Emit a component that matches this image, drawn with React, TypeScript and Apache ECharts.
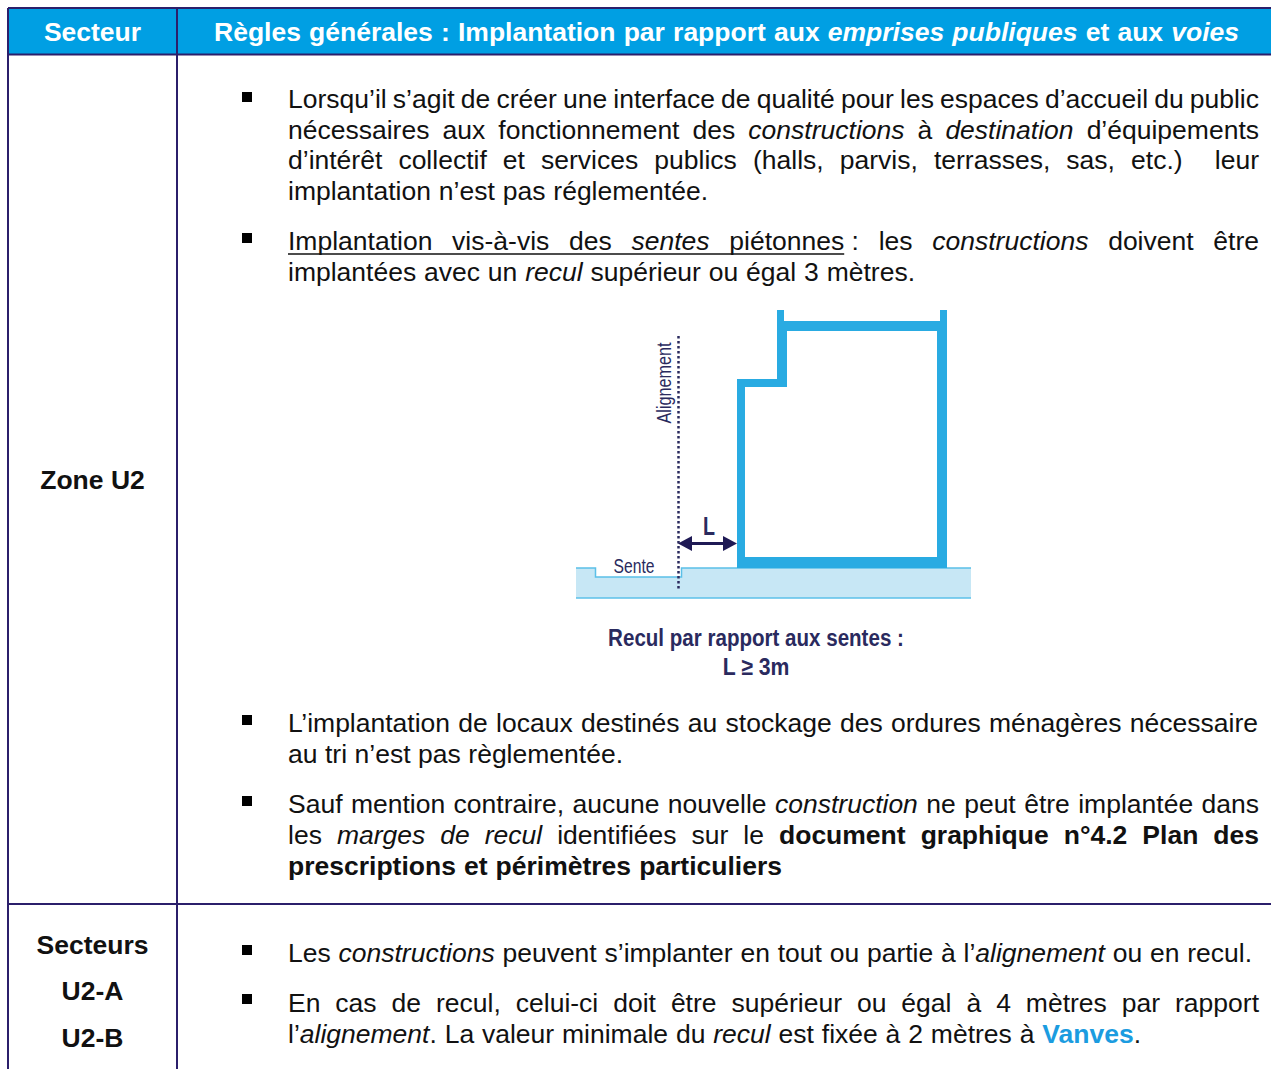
import React, { useEffect, useRef } from "react";
import * as echarts from "echarts";

type Run = [string, string];
const FONT = "'Liberation Sans', Arial, sans-serif";
const NAVY = "#2B1F6B";
const HEAD = "#009FE3";
const INK = "#111111";
const BLUE = "#29ABE2";
const DIAGRAM_INK = "#2A2A5E";
const HEADLINK = "#1B9CE0";
const BODY_SIZE = 26.5;

const headerSector = "Secteur";
const headerRule: Run[] = [
  ["b", "Règles générales : Implantation par rapport aux "],
  ["bi", "emprises publiques"],
  ["b", " et aux "],
  ["bi", "voies"],
];
const sectorLabels = ["Zone U2", "Secteurs", "U2-A", "U2-B"];
const sectorY = [480, 945, 991, 1038];

const bodyLines: Run[][] = [
  [["n", "Lorsqu’il s’agit de créer une interface de qualité pour les espaces d’accueil du public"]],
  [["n", "nécessaires aux fonctionnement des "], ["i", "constructions"], ["n", " à "], ["i", "destination"], ["n", " d’équipements"]],
  [["n", "d’intérêt collectif et services publics (halls, parvis, terrasses, sas, etc.)  leur"]],
  [["n", "implantation n’est pas réglementée."]],
  [["u", "Implantation vis-à-vis des "], ["ui", "sentes"], ["u", " piétonnes"], ["n", "\u00A0: les "], ["i", "constructions"], ["n", " doivent être"]],
  [["n", "implantées avec un "], ["i", "recul"], ["n", " supérieur ou égal 3 mètres."]],
  [["n", "L’implantation de locaux destinés au stockage des ordures ménagères nécessaire"]],
  [["n", "au tri n’est pas règlementée."]],
  [["n", "Sauf mention contraire, aucune nouvelle "], ["i", "construction"], ["n", " ne peut être implantée dans"]],
  [["n", "les "], ["i", "marges de recul"], ["n", " identifiées sur le "], ["b", "document graphique n°4.2 Plan des"]],
  [["b", "prescriptions et périmètres particuliers"]],
  [["n", "Les "], ["i", "constructions"], ["n", " peuvent s’implanter en tout ou partie à l’"], ["i", "alignement"], ["n", " ou en recul."]],
  [["n", "En cas de recul, celui-ci doit être supérieur ou égal à 4 mètres par rapport"]],
  [["n", "l’"], ["i", "alignement"], ["n", ". La valeur minimale du "], ["i", "recul"], ["n", " est fixée à 2 mètres à "], ["v", "Vanves"], ["n", "."]],
];
const lineY = [99, 130, 160, 191, 241, 272, 723, 754, 804, 835, 866, 953, 1003, 1034];
const lineEnd = [1259, 1259, 1259, 708, 1259, 915, 1258, 623, 1259, 1259, 782, 1252, 1259, 1141];
const bulletY = [97, 238, 720, 801, 950, 999];

const caption = ["Recul par rapport aux sentes :", "L ≥ 3m"];

const ctx = document.createElement("canvas").getContext("2d")!;
function styleOf(s: string, size: number) {
  const bold = s.includes("b") || s === "v";
  const italic = s.includes("i");
  return {
    fontFamily: FONT,
    fontSize: size,
    fontWeight: bold ? "bold" : "normal",
    fontStyle: italic ? "italic" : "normal",
  };
}
function measure(t: string, s: string, size: number) {
  const st = styleOf(s, size);
  ctx.font = `${st.fontStyle} ${st.fontWeight} ${size}px ${FONT}`;
  return ctx.measureText(t).width;
}

function layoutLine(runs: Run[], xStart: number, xEnd: number, y: number, size: number, fill: string) {
  type Frag = { t: string; s: string; w: number };
  const words: Frag[][] = [[]];
  runs.forEach(([s, text]) => {
    text.split(" ").forEach((part, i) => {
      if (i > 0) words.push([]);
      if (part) words[words.length - 1].push({ t: part, s, w: measure(part, s, size) });
    });
  });
  const total = words.reduce((a, w) => a + w.reduce((b, f) => b + f.w, 0), 0);
  const gap = words.length > 1 ? (xEnd - xStart - total) / (words.length - 1) : 0;
  const out: any[] = [];
  let x = xStart;
  let uStart = -1;
  let uEnd = -1;
  words.forEach((w) => {
    w.forEach((f) => {
      if (f.s.includes("u")) {
        if (uStart < 0) uStart = x;
        uEnd = x + f.w;
      }
      out.push({
        type: "text",
        x,
        y,
        silent: true,
        style: {
          ...styleOf(f.s, size),
          text: f.t,
          fill: f.s === "v" ? HEADLINK : fill,
          align: "left",
          verticalAlign: "middle",
        },
      });
      x += f.w;
    });
    x += gap;
  });
  if (uStart >= 0) {
    out.push({
      type: "line",
      silent: true,
      shape: { x1: uStart, y1: y + 13, x2: uEnd, y2: y + 13 },
      style: { stroke: INK, lineWidth: 1.5 },
    });
  }
  return out;
}

function fitted(text: string, cx: number, cy: number, width: number, size: number, weight: string, rotation = 0) {
  ctx.font = `${weight} ${size}px ${FONT}`;
  const w = ctx.measureText(text).width;
  return {
    type: "text",
    x: cx,
    y: cy,
    rotation,
    scaleX: width / w,
    silent: true,
    style: {
      text,
      fontFamily: FONT,
      fontSize: size,
      fontWeight: weight,
      fill: DIAGRAM_INK,
      align: "center",
      verticalAlign: "middle",
    },
  };
}

function buildElements() {
  const els: any[] = [];
  els.push({ type: "rect", silent: true, shape: { x: 8, y: 8, width: 1263, height: 46 }, style: { fill: HEAD } });
  const line = (x1: number, y1: number, x2: number, y2: number) => ({
    type: "line",
    silent: true,
    shape: { x1, y1, x2, y2 },
    style: { stroke: NAVY, lineWidth: 2 },
  });
  els.push(line(8, 8, 1271, 8), line(8, 54.5, 1271, 54.5), line(8, 904, 1271, 904));
  els.push(line(8, 8, 8, 1069), line(177, 8, 177, 1069));

  els.push({
    type: "text",
    x: 92.5,
    y: 32,
    silent: true,
    style: { text: headerSector, fontFamily: FONT, fontSize: BODY_SIZE, fontWeight: "bold", fill: "#FFFFFF", align: "center", verticalAlign: "middle" },
  });
  els.push(...layoutLine(headerRule, 214, 1239, 32, BODY_SIZE, "#FFFFFF"));

  sectorLabels.forEach((t, i) =>
    els.push({
      type: "text",
      x: 92.5,
      y: sectorY[i],
      silent: true,
      style: { text: t, fontFamily: FONT, fontSize: BODY_SIZE, fontWeight: "bold", fill: INK, align: "center", verticalAlign: "middle" },
    })
  );

  bulletY.forEach((y) =>
    els.push({ type: "rect", silent: true, shape: { x: 242, y: y - 5, width: 10, height: 10 }, style: { fill: "#000000" } })
  );

  bodyLines.forEach((runs, i) => els.push(...layoutLine(runs, 288, lineEnd[i], lineY[i], BODY_SIZE, INK)));

  els.push({ type: "rect", silent: true, shape: { x: 576, y: 568, width: 395, height: 30 }, style: { fill: "#C7E7F5" } });
  els.push({ type: "rect", silent: true, shape: { x: 595, y: 566, width: 86, height: 11 }, style: { fill: "#FFFFFF" } });
  els.push({
    type: "polyline",
    silent: true,
    shape: { points: [[576, 568], [595.5, 568], [595.5, 577], [681.5, 577], [681.5, 568], [971, 568]] },
    style: { stroke: "#5BC0E8", lineWidth: 1.5, fill: "none" },
  });
  els.push({
    type: "line",
    silent: true,
    shape: { x1: 576, y1: 598, x2: 971, y2: 598 },
    style: { stroke: "#5BC0E8", lineWidth: 1.5 },
  });
  els.push({
    type: "polygon",
    silent: true,
    shape: { points: [[737, 568], [737, 379], [777, 379], [777, 310], [784, 310], [784, 321], [940, 321], [940, 310], [947, 310], [947, 568]] },
    style: { fill: BLUE },
  });
  els.push({
    type: "polygon",
    silent: true,
    shape: { points: [[745, 557], [745, 387], [787, 387], [787, 331], [937, 331], [937, 557]] },
    style: { fill: "#FFFFFF" },
  });
  els.push({
    type: "line",
    silent: true,
    shape: { x1: 678.5, y1: 336, x2: 678.5, y2: 590 },
    style: { stroke: DIAGRAM_INK, lineWidth: 2.5, lineDash: [2.5, 2.5] },
  });
  els.push({
    type: "line",
    silent: true,
    shape: { x1: 686, y1: 543.5, x2: 730, y2: 543.5 },
    style: { stroke: "#1F1A55", lineWidth: 3 },
  });
  els.push({ type: "polygon", silent: true, shape: { points: [[678, 543.5], [692, 536], [692, 551]] }, style: { fill: "#1F1A55" } });
  els.push({ type: "polygon", silent: true, shape: { points: [[737, 543.5], [723, 536], [723, 551]] }, style: { fill: "#1F1A55" } });

  els.push(fitted("Alignement", 664, 383, 81, 20, "normal", Math.PI / 2));
  els.push(fitted("Sente", 634, 566, 41, 20, "normal"));
  els.push(fitted("L", 709, 527, 12, 25, "bold"));
  els.push(fitted(caption[0], 756, 638, 296, 24, "bold"));
  els.push(fitted(caption[1], 756, 667, 67, 24, "bold"));
  return els;
}

export default function App() {
  const ref = useRef<HTMLDivElement>(null);
  useEffect(() => {
    document.body.style.margin = "0";
    const chart = echarts.init(ref.current!, undefined, { renderer: "svg" });
    chart.setOption({
      animation: false,
      backgroundColor: "#FFFFFF",
      graphic: { elements: buildElements() },
    });
    return () => chart.dispose();
  }, []);
  return <div ref={ref} style={{ width: 1271, height: 1069, overflow: "hidden" }} />;
}
